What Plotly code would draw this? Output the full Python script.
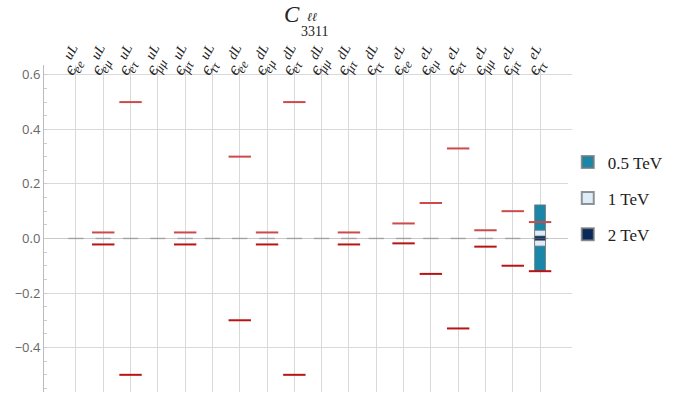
import plotly.graph_objects as go

quarks = ["uL", "dL", "eL"]
flavours = ["ee", "eμ", "eτ", "μμ", "μτ", "ττ"]

categories = [f"{q}_{f}" for q in quarks for f in flavours]
label_main = ["<i>ϵ</i>" for q in quarks for f in flavours]
label_sup = [f"<i>{q}</i>" for q in quarks for f in flavours]
label_sub = [f"<i>{f}</i>" for q in quarks for f in flavours]

# limits (upper, lower); None = no limit drawn
upper_limits = [None, 0.022, 0.5, None, 0.022, None,
                0.30, 0.022, 0.5, None, 0.022, None,
                0.055, 0.13, 0.33, 0.03, 0.10, 0.06]
lower_limits = [None, -0.022, -0.5, None, -0.022, None,
                -0.30, -0.022, -0.5, None, -0.022, None,
                -0.018, -0.13, -0.33, -0.03, -0.10, -0.12]

# sensitivity bars, only for eL ττ
bar_cat = ["eL_ττ"]
bar_05_low, bar_05_high = [-0.12], [0.123]
bar_1_low, bar_1_high = [-0.028], [0.03]
bar_2_low, bar_2_high = [-0.007], [0.009]

y_ticks = [-0.4, -0.2, 0.0, 0.2, 0.4, 0.6]
y_tick_text = ["−0.4", "−0.2", "0.0", "0.2", "0.4", "0.6"]

fig = go.Figure()

xs = list(range(len(categories)))
xrange_ = [-1.17, len(xs) - 1 + 1.17]

# small gray segments along zero at each category
seg_x, seg_y = [], []
for i in xs:
    seg_x += [i - 0.28, i + 0.28, None]
    seg_y += [0, 0, None]
fig.add_trace(go.Scatter(x=seg_x, y=seg_y, mode="lines",
                         line=dict(color="rgba(120,120,120,0.5)", width=1.5),
                         showlegend=False, hoverinfo="skip"))

def add_bar(low, high, color, name, group):
    fig.add_trace(go.Bar(
        x=[categories.index(c) for c in bar_cat],
        y=[h - l for l, h in zip(low, high)],
        base=low, width=0.4, name=name, legendgroup=group,
        marker=dict(color=color, line=dict(color="rgba(120,120,120,0.8)", width=1)),
    ))

add_bar(bar_05_low, bar_05_high, "#1b87a8", "0.5 TeV", "a")
add_bar(bar_1_low, bar_1_high, "#ddecf9", "1 TeV", "b")
add_bar(bar_2_low, bar_2_high, "#08285a", "2 TeV", "c")

ux = [i for i, v in zip(xs, upper_limits) if v is not None]
uy = [v for v in upper_limits if v is not None]
lx = [i for i, v in zip(xs, lower_limits) if v is not None]
ly = [v for v in lower_limits if v is not None]
fig.add_trace(go.Scatter(x=ux, y=uy, mode="markers", showlegend=False,
                         marker=dict(symbol="line-ew", size=16,
                                     line=dict(color="#cc4a4a", width=2))))
fig.add_trace(go.Scatter(x=lx, y=ly, mode="markers", showlegend=False,
                         marker=dict(symbol="line-ew", size=16,
                                     line=dict(color="#b81414", width=2))))

ANG = -62
def label_axis(text, font, standoff, shift, **extra):
    d = dict(side="top", tickmode="array", tickvals=xs, ticktext=text,
             tickangle=ANG, range=xrange_, automargin=False, ticks="",
             showline=False, zeroline=False, tickfont=font,
             ticklabelstandoff=standoff, ticklabelshift=shift)
    d.update(extra)
    return d

fig.update_layout(
    width=688, height=400,
    margin=dict(l=44, r=116, t=65, b=8),
    paper_bgcolor="white", plot_bgcolor="white",
    barmode="overlay",
    showlegend=True,
    legend=dict(x=0.992, y=0.757, xanchor="left", yanchor="top",
                font=dict(family="Liberation Serif", size=17, color="#222"),
                tracegroupgap=11, itemsizing="constant", itemwidth=30),
    xaxis=label_axis(label_main, dict(family="DejaVu Serif", size=16, color="#222"),
                     -20, -10, showgrid=True, gridcolor="#d9d9d9", gridwidth=1),
    xaxis2=label_axis(label_sup, dict(family="Liberation Serif", size=14, color="#222"),
                      -3, -11, overlaying="x", showgrid=False),
    xaxis3=label_axis(label_sub, dict(family="Liberation Serif", size=13, color="#222"),
                      -16, -2, overlaying="x", showgrid=False),
    yaxis=dict(range=[-0.563, 0.636], tickmode="array", tickvals=y_ticks, automargin=False,
               ticktext=y_tick_text,
               showgrid=True, gridcolor="#d9d9d9", zeroline=True,
               zerolinecolor="#c8c8c8", zerolinewidth=1,
               showline=True, linecolor="#bbbbbb", linewidth=1,
               ticks="", tickfont=dict(family="Open Sans", size=13, color="#666"),
               minor=dict(ticks="inside", ticklen=3, tickcolor="#cccccc", dtick=0.05)),
)

# invisible traces so the extra label axes are drawn
for ax in ["x2", "x3"]:
    fig.add_trace(go.Scatter(x=[xs[0]], y=[0], xaxis=ax, mode="markers",
                             marker=dict(opacity=0), showlegend=False, hoverinfo="skip"))

title_common = dict(xref="paper", yref="paper", showarrow=False,
                    xanchor="center", yanchor="middle", borderpad=0)
fig.add_annotation(x=(292 - 44) / 528, y=1 + (65 - 15) / 327, text="<i>C</i>",
                   font=dict(family="Liberation Serif", size=23, color="#222"), **title_common)
fig.add_annotation(x=(312 - 44) / 528, y=1 + (65 - 17) / 327, text="<i>ℓℓ</i>",
                   font=dict(family="DejaVu Serif", size=12, color="#222"), **title_common)
fig.add_annotation(x=(314 - 44) / 528, y=1 + (65 - 32) / 327, text="3311",
                   font=dict(family="Liberation Serif", size=14, color="#222"), **title_common)

fig.write_html("out.html", config={"displayModeBar": False},
               post_script="document.body.style.margin='0';document.body.style.overflow='hidden';")
